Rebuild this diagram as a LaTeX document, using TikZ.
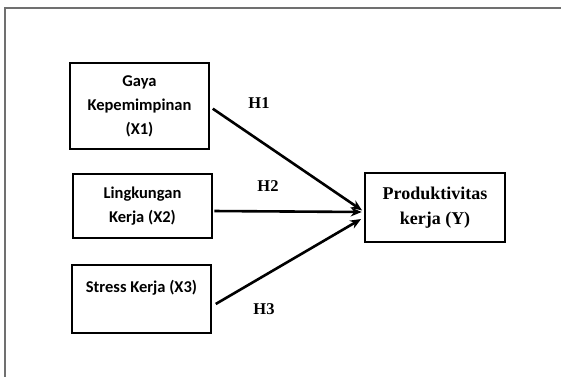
\documentclass[tikz,border=0pt]{standalone}
\usepackage{fontspec}
\usepackage{tikz}
\usetikzlibrary{arrows.meta}
\newfontfamily\boxfont{Carlito}
\newfontfamily\hfont{Liberation Serif}
\definecolor{framegray}{RGB}{112,112,112}

\begin{document}
\begin{tikzpicture}[x=1pt,y=-1pt,
        varbox/.style={draw, line width=2.6pt, minimum width=139pt, align=center,
            font=\boxfont\bfseries\fontsize{16.5}{24}\selectfont},
        ybox/.style={draw, line width=2.6pt, minimum width=140pt, minimum height=69pt, align=center,
            font=\hfont\bfseries\fontsize{18}{25}\selectfont},
        hlabel/.style={font=\hfont\bfseries\fontsize{16.5}{20}\selectfont},
        arr/.style={line width=2.6pt, -{Stealth[length=11pt,width=9pt]}}]
        \clip (0,0) rectangle (561,376);
        \draw[framegray, line width=2pt] (5,390) -- (5,8) -- (575,8);
        \node[varbox, minimum height=86pt] (x1) at (139.5,106) {Gaya\\Kepemimpinan\\(X1)};
        \node[varbox, minimum height=64pt] (x2) at (142.5,206) {Lingkungan\\Kerja (X2)};
        \node[varbox, minimum height=68pt, text depth=26pt] (x3) at (141.5,299) {Stress Kerja (X3)};
        \node[ybox] (y) at (435,207.5) {Produktivitas\\kerja (Y)};
        \draw[arr, shorten <=3pt, shorten >=2pt] ([yshift=-1pt]x1.east) -- ([yshift=-4pt]y.west);
        \draw[arr, shorten <=1pt, shorten >=2pt] ([yshift=-5pt]x2.east) -- ([yshift=-4.5pt]y.west);
        \draw[arr, shorten <=4pt, shorten >=3pt] ([yshift=-7pt]x3.east) -- ([yshift=-10pt]y.west);
        \node[hlabel] (h1) at (259,103) {H1};
        \node[hlabel] (h2) at (268,186) {H2};
        \node[hlabel] (h3) at (264,309) {H3};
\end{tikzpicture}
\end{document}
